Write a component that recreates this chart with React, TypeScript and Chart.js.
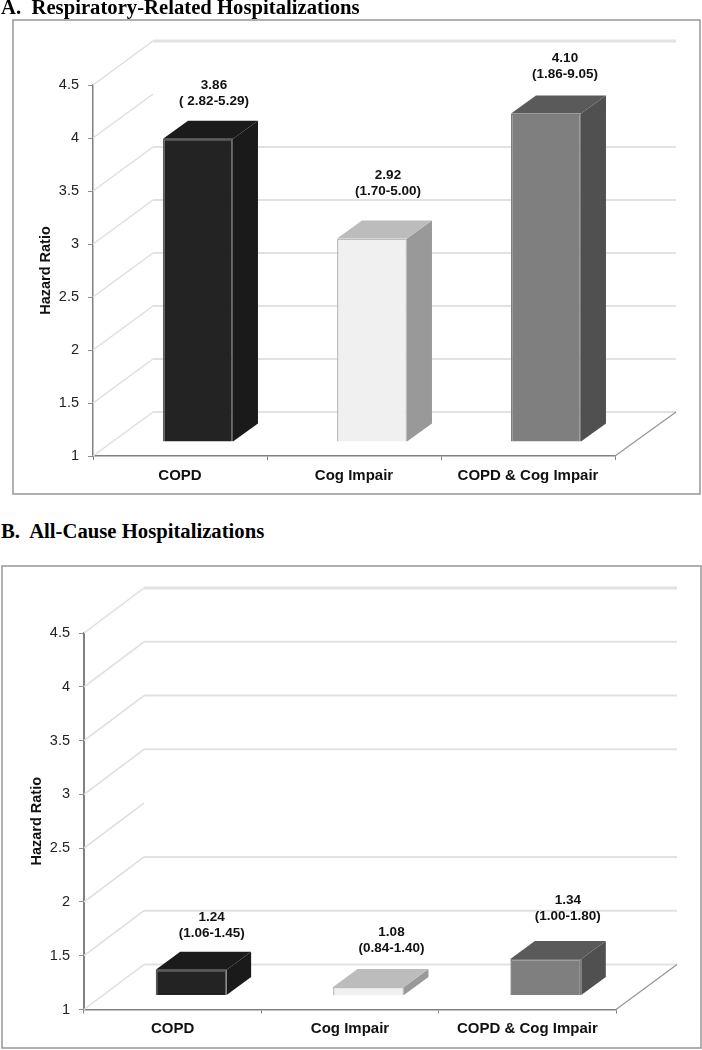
import React, { useEffect, useRef } from "react";
import { Chart, registerables } from "chart.js";

Chart.register(...registerables);

const categories = ["COPD", "Cog Impair", "COPD & Cog Impair"];
const yTickStep = 0.5;
const yMin = 1;
const yMax = 4.5;

const titleA = "A.  Respiratory-Related Hospitalizations";
const hazardA = [3.86, 2.92, 4.1];
const hazardTextA = ["3.86", "2.92", "4.10"];
const ciTextA = ["( 2.82-5.29)", "(1.70-5.00)", "(1.86-9.05)"];

const titleB = "B.  All-Cause Hospitalizations";
const hazardB = [1.24, 1.08, 1.34];
const hazardTextB = ["1.24", "1.08", "1.34"];
const ciTextB = ["(1.06-1.45)", "(0.84-1.40)", "(1.00-1.80)"];

const yAxisTitle = "Hazard Ratio";

const FONT = '"Liberation Sans", Arial, sans-serif';
const faceColors = ["#232323", "#f0f0f0", "#7f7f7f"];
const borderColors = ["#5a5a5a", "#bdbdbd", "#7a7a7a"];
const topColors = ["#1b1b1b", "#bcbcbc", "#5a5a5a"];
const sideColors = ["#1a1a1a", "#999999", "#505050"];

type Panel = {
  top: number;
  height: number;
  frame: [number, number, number, number];
  padding: { left: number; top: number; right: number; bottom: number };
  yWidth: number;
  xHeight: number;
  xLabelPadding: number;
  backDx: number;
  backDy: number;
  shiftX: number;
  shiftY: number;
  depthX: number;
  depthY: number;
  barPercentage: number;
  hiddenBackLine: number;
  axisWidth: number;
  labelOffsets: { x: number; y: number }[];
  values: number[];
  valueText: string[];
  ciText: string[];
};

const panelA: Panel = {
  top: 0,
  height: 510,
  frame: [13, 20, 700, 494],
  padding: { left: 37, top: 85, right: 87, bottom: 0 },
  yWidth: 56,
  xHeight: 54,
  xLabelPadding: 7,
  backDx: 60,
  backDy: 44,
  shiftX: 18,
  shiftY: -14,
  depthX: 25,
  depthY: 18,
  barPercentage: 0.402,
  hiddenBackLine: 4,
  axisWidth: 1.5,
  labelOffsets: [
    { x: 16, y: -36 },
    { x: 16, y: -45 },
    { x: 19, y: -37 },
  ],
  values: hazardA,
  valueText: hazardTextA,
  ciText: ciTextA,
};

const panelB: Panel = {
  top: 550,
  height: 500,
  frame: [2, 16, 701, 498],
  padding: { left: 28, top: 83, right: 86, bottom: 0 },
  yWidth: 56,
  xHeight: 40.5,
  xLabelPadding: 6,
  backDx: 60,
  backDy: 45,
  shiftX: 18.5,
  shiftY: -14,
  depthX: 24.5,
  depthY: 18,
  barPercentage: 0.4,
  hiddenBackLine: 2.5,
  axisWidth: 2,
  labelOffsets: [
    { x: 20.5, y: -34 },
    { x: 23, y: -37 },
    { x: 22, y: -41 },
  ],
  values: hazardB,
  valueText: hazardTextB,
  ciText: ciTextB,
};

function poly(ctx: CanvasRenderingContext2D, pts: number[][], fill: string) {
  ctx.beginPath();
  pts.forEach((p, i) => (i ? ctx.lineTo(p[0], p[1]) : ctx.moveTo(p[0], p[1])));
  ctx.closePath();
  ctx.fillStyle = fill;
  ctx.fill();
}

function line(
  ctx: CanvasRenderingContext2D,
  x1: number,
  y1: number,
  x2: number,
  y2: number,
  color: string,
  width: number,
) {
  ctx.beginPath();
  ctx.moveTo(x1, y1);
  ctx.lineTo(x2, y2);
  ctx.strokeStyle = color;
  ctx.lineWidth = width;
  ctx.stroke();
}

function makePlugin(p: Panel) {
  return {
    id: "bar3d",
    beforeDraw(chart: any) {
      const { ctx } = chart;
      const [x1, y1, x2, y2] = p.frame;
      ctx.save();
      ctx.fillStyle = "#ffffff";
      ctx.fillRect(0, 0, chart.width, chart.height);
      ctx.strokeStyle = "#969696";
      ctx.lineWidth = 1.5;
      ctx.strokeRect(x1, y1, x2 - x1, y2 - y1);
      ctx.restore();
    },
    beforeDatasetsDraw(chart: any) {
      const { ctx, chartArea, scales } = chart;
      const { left, right, bottom } = chartArea;
      ctx.save();
      scales.y.ticks.forEach((t: any) => {
        const y = scales.y.getPixelForValue(t.value);
        const bx = left + p.backDx;
        const by = y - p.backDy;
        line(ctx, left, y, bx, by, "#dedede", 1.5);
        if (t.value !== p.hiddenBackLine) {
          const isTop = t.value === yMax;
          line(ctx, bx, by, right + p.backDx + 1, by, "#e2e2e2", isTop ? 3 : 2);
        }
      });
      line(ctx, right, bottom, right + p.backDx + 1, bottom - p.backDy, "#949494", 1.2);
      chart.getDatasetMeta(0).data.forEach((el: any, i: number) => {
        const l = el.x - el.width / 2 + p.shiftX;
        const r = el.x + el.width / 2 + p.shiftX;
        const t = el.y + p.shiftY;
        const b = el.base + p.shiftY;
        poly(
          ctx,
          [
            [r, t],
            [r + p.depthX, t - p.depthY],
            [r + p.depthX, b - p.depthY],
            [r, b],
          ],
          sideColors[i],
        );
        poly(
          ctx,
          [
            [l, t],
            [l + p.depthX, t - p.depthY],
            [r + p.depthX, t - p.depthY],
            [r, t],
          ],
          topColors[i],
        );
      });
      ctx.restore();
      ctx.save();
      ctx.translate(p.shiftX, p.shiftY);
    },
    afterDatasetsDraw(chart: any) {
      const { ctx } = chart;
      ctx.restore();
      ctx.save();
      ctx.fillStyle = "#111111";
      ctx.textAlign = "center";
      ctx.textBaseline = "middle";
      ctx.font = `bold 13.5px ${FONT}`;
      chart.getDatasetMeta(0).data.forEach((el: any, i: number) => {
        const top = el.y + p.shiftY - p.depthY;
        const cx = el.x + p.shiftX + p.labelOffsets[i].x;
        const cy = top + p.labelOffsets[i].y;
        ctx.fillText(p.valueText[i], cx, cy);
        ctx.fillText(p.ciText[i], cx, cy + 16);
      });
      ctx.restore();
    },
  };
}

function ChartPanel({ panel }: { panel: Panel }) {
  const ref = useRef<HTMLCanvasElement>(null);
  useEffect(() => {
    const chart = new Chart(ref.current as HTMLCanvasElement, {
      type: "bar",
      data: {
        labels: categories,
        datasets: [
          {
            data: panel.values,
            base: yMin,
            backgroundColor: faceColors,
            borderColor: borderColors,
            borderWidth: 1.5,
            categoryPercentage: 1,
            barPercentage: panel.barPercentage,
            clip: false,
          } as any,
        ],
      },
      options: {
        responsive: false,
        animation: false,
        layout: { padding: panel.padding },
        plugins: { legend: { display: false }, tooltip: { enabled: false }, title: { display: false } },
        scales: {
          x: {
            afterFit: (s: any) => {
              s.height = panel.xHeight;
            },
            grid: { drawOnChartArea: false, tickLength: 4, tickColor: "#808080", tickWidth: 1 },
            border: { color: "#808080", width: 1.5 },
            ticks: {
              color: "#111111",
              padding: panel.xLabelPadding,
              maxRotation: 0,
              font: { family: FONT, size: 15, weight: "bold" },
            },
          },
          y: {
            min: yMin,
            max: yMax,
            afterFit: (s: any) => {
              s.width = panel.yWidth;
            },
            title: {
              display: true,
              text: yAxisTitle,
              color: "#111111",
              padding: 0,
              font: { family: FONT, size: 14.5, weight: "bold" },
            },
            grid: { drawOnChartArea: false, tickLength: 5, tickColor: "#909090", tickWidth: 1 },
            border: { color: "#808080", width: panel.axisWidth },
            ticks: {
              stepSize: yTickStep,
              color: "#222222",
              padding: 9,
              callback: (v: any) => String(v),
              font: { family: FONT, size: 14.5 },
            },
          },
        },
      },
      plugins: [makePlugin(panel)],
    } as any);
    return () => chart.destroy();
  }, [panel]);
  return (
    <canvas
      ref={ref}
      width={702}
      height={panel.height}
      style={{ position: "absolute", left: 0, top: panel.top, display: "block", width: 702, height: panel.height }}
    />
  );
}

const headingStyle: React.CSSProperties = {
  position: "absolute",
  left: 1,
  font: 'bold 20.7px/20px "Liberation Serif", "Times New Roman", serif',
  whiteSpace: "pre",
  color: "#000",
};

export default function App() {
  return (
    <div style={{ position: "absolute", left: 0, top: 0, width: 702, height: 1050, background: "#fff", overflow: "hidden" }}>
      <ChartPanel panel={panelA} />
      <ChartPanel panel={panelB} />
      <div style={{ ...headingStyle, top: -3 }}>{titleA}</div>
      <div style={{ ...headingStyle, top: 521 }}>{titleB}</div>
    </div>
  );
}
